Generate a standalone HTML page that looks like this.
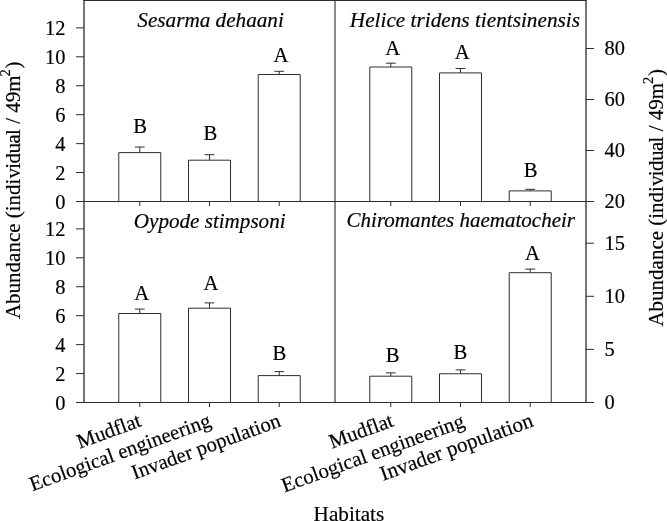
<!DOCTYPE html>
<html lang="en"><head><meta charset="utf-8"><title>Abundance by habitat</title>
<style>html,body{margin:0;padding:0;background:#fff;overflow:hidden}svg{display:block}text{stroke:#000;stroke-width:.18px}</style></head>
<body>
<svg width="667" height="521" viewBox="0 0 667 521" font-family="'Liberation Serif', 'Times New Roman', serif" fill="#000">
<rect width="667" height="521" fill="#fff"/>
<g stroke="#2a2a2a" stroke-width="1.28" fill="none">
<path d="M84.0 402.5 V0 M586.0 0 V402.5"/>
<path d="M335.0 0 V402.5" stroke-width="1.1"/>
</g>
<path d="M83.3 0.5 H586.7" stroke="#2e2e2e" stroke-width="1" fill="none"/>
<g stroke="#2e2e2e" stroke-width="1" fill="none">
<path d="M76.0 201.5 H594.0"/>
<path d="M76.0 402.5 H594.0"/>
<path d="M76.0 172.56 H84.0"/>
<path d="M76.0 143.62 H84.0"/>
<path d="M76.0 114.68 H84.0"/>
<path d="M76.0 85.74 H84.0"/>
<path d="M76.0 56.80 H84.0"/>
<path d="M76.0 27.86 H84.0"/>
<path d="M76.0 373.56 H84.0"/>
<path d="M76.0 344.62 H84.0"/>
<path d="M76.0 315.68 H84.0"/>
<path d="M76.0 286.74 H84.0"/>
<path d="M76.0 257.80 H84.0"/>
<path d="M76.0 228.86 H84.0"/>
<path d="M586.0 150.50 H594.0"/>
<path d="M586.0 99.50 H594.0"/>
<path d="M586.0 48.50 H594.0"/>
<path d="M586.0 349.40 H594.0"/>
<path d="M586.0 296.30 H594.0"/>
<path d="M586.0 243.20 H594.0"/>
<path d="M139.78 201.5 v4.5"/>
<path d="M209.50 201.5 v4.5"/>
<path d="M279.22 201.5 v4.5"/>
<path d="M390.78 201.5 v4.5"/>
<path d="M460.50 201.5 v4.5"/>
<path d="M530.22 201.5 v4.5"/>
<path d="M139.78 402.5 v4.5"/>
<path d="M209.50 402.5 v4.5"/>
<path d="M279.22 402.5 v4.5"/>
<path d="M390.78 402.5 v4.5"/>
<path d="M460.50 402.5 v4.5"/>
<path d="M530.22 402.5 v4.5"/>
<path d="M118.78 201.5 V152.60 H160.78 V201.5"/>
<path d="M139.78 152.60 V147.00 M134.88 147.00 H144.68"/>
<path d="M188.50 201.5 V160.20 H230.50 V201.5"/>
<path d="M209.50 160.20 V154.70 M204.60 154.70 H214.40"/>
<path d="M258.22 201.5 V74.50 H300.22 V201.5"/>
<path d="M279.22 74.50 V71.30 M274.32 71.30 H284.12"/>
<path d="M369.78 201.5 V67.00 H411.78 V201.5"/>
<path d="M390.78 67.00 V63.20 M385.88 63.20 H395.68"/>
<path d="M439.50 201.5 V72.90 H481.50 V201.5"/>
<path d="M460.50 72.90 V68.50 M455.60 68.50 H465.40"/>
<path d="M509.22 201.5 V190.90 H551.22 V201.5"/>
<path d="M530.22 190.90 V189.30 M525.32 189.30 H535.12"/>
<path d="M118.78 402.5 V313.50 H160.78 V402.5"/>
<path d="M139.78 313.50 V309.10 M134.88 309.10 H144.68"/>
<path d="M188.50 402.5 V308.20 H230.50 V402.5"/>
<path d="M209.50 308.20 V302.90 M204.60 302.90 H214.40"/>
<path d="M258.22 402.5 V375.60 H300.22 V402.5"/>
<path d="M279.22 375.60 V371.60 M274.32 371.60 H284.12"/>
<path d="M369.78 402.5 V376.20 H411.78 V402.5"/>
<path d="M390.78 376.20 V372.90 M385.88 372.90 H395.68"/>
<path d="M439.50 402.5 V373.75 H481.50 V402.5"/>
<path d="M460.50 373.75 V369.90 M455.60 369.90 H465.40"/>
<path d="M509.22 402.5 V272.70 H551.22 V402.5"/>
<path d="M530.22 272.70 V269.10 M525.32 269.10 H535.12"/>
</g>
<g font-size="20.4" text-anchor="end">
<text x="65.5" y="208.50">0</text>
<text x="65.5" y="179.56">2</text>
<text x="65.5" y="150.62">4</text>
<text x="65.5" y="121.68">6</text>
<text x="65.5" y="92.74">8</text>
<text x="65.5" y="63.80">10</text>
<text x="65.5" y="34.86">12</text>
<text x="65.5" y="409.50">0</text>
<text x="65.5" y="380.56">2</text>
<text x="65.5" y="351.62">4</text>
<text x="65.5" y="322.68">6</text>
<text x="65.5" y="293.74">8</text>
<text x="65.5" y="264.80">10</text>
<text x="65.5" y="235.86">12</text>
</g>
<g font-size="20.4" text-anchor="start">
<text x="604.6" y="208.20">20</text>
<text x="604.6" y="157.20">40</text>
<text x="604.6" y="106.20">60</text>
<text x="604.6" y="55.20">80</text>
<text x="604.6" y="408.90">0</text>
<text x="604.6" y="355.80">5</text>
<text x="604.6" y="302.70">10</text>
<text x="604.6" y="249.60">15</text>
</g>
<g font-size="20.7" text-anchor="middle">
<text x="140.18" y="132.9">B</text>
<text x="210.45" y="140.0">B</text>
<text x="281.02" y="61.6">A</text>
<text x="392.68" y="55.2">A</text>
<text x="462.30" y="59.3">A</text>
<text x="530.62" y="177.0">B</text>
<text x="141.68" y="300.0">A</text>
<text x="210.90" y="290.4">A</text>
<text x="279.52" y="359.5">B</text>
<text x="392.68" y="362.0">B</text>
<text x="460.30" y="359.2">B</text>
<text x="532.42" y="259.8">A</text>
</g>
<g font-style="italic" text-anchor="middle">
<text x="210.6" y="27.0" font-size="21.2">Sesarma dehaani</text>
<text x="464.9" y="26.8" font-size="21.25">Helice tridens tientsinensis</text>
<text x="209.7" y="228.3" font-size="21.1">Oypode stimpsoni</text>
<text x="460.8" y="227.0" font-size="21.0">Chiromantes haematocheir</text>
</g>
<g text-anchor="end">
<text transform="translate(142.48 425.90) rotate(-20)" font-size="20.7">Mudflat</text>
<text transform="translate(212.20 425.90) rotate(-20)" font-size="20.7">Ecological engineering</text>
<text transform="translate(281.92 425.90) rotate(-20)" font-size="20.7">Invader population</text>
<text transform="translate(394.68 425.90) rotate(-20)" font-size="20.7">Mudflat</text>
<text transform="translate(465.70 426.50) rotate(-20)" font-size="20.85">Ecological engineering</text>
<text transform="translate(534.42 425.90) rotate(-20)" font-size="21.25">Invader population</text>
</g>
<text x="348.9" y="521" font-size="21.2" text-anchor="middle">Habitats</text>
<text transform="translate(20 319.1) rotate(-90)" font-size="21" text-anchor="start">Abundance (indi<tspan letter-spacing="-0.6">vidua</tspan>l / 49m<tspan font-size="14.5" dy="-10.1" dx="-1.1">2</tspan><tspan dy="10.1" dx="0.7">)</tspan></text>
<text transform="translate(662.7 326.6) rotate(-90)" font-size="21" text-anchor="start">Abundance (indi<tspan letter-spacing="-0.6">vidua</tspan>l / 49m<tspan font-size="14.5" dy="-10.1" dx="-1.1">2</tspan><tspan dy="10.1" dx="0.7">)</tspan></text>
</svg>
</body></html>
